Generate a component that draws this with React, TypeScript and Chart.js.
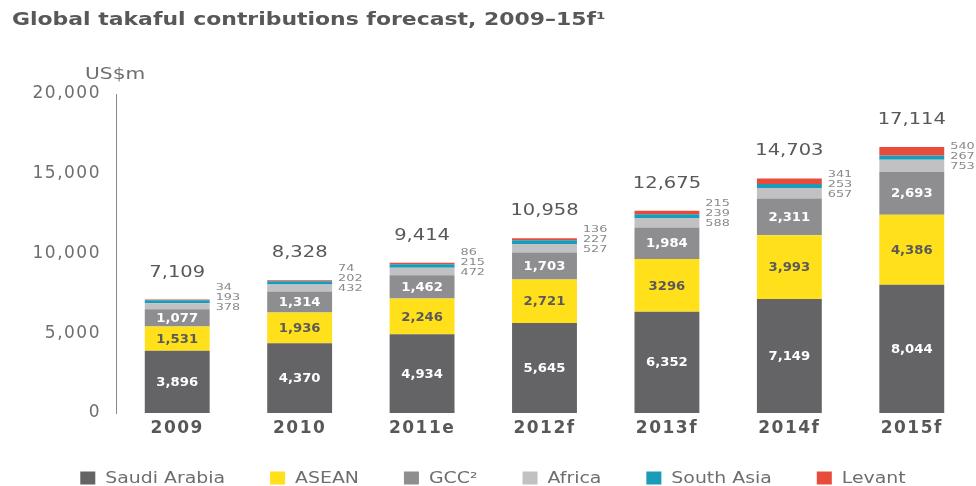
import { useEffect, useRef } from "react";
import { Chart, registerables } from "chart.js";

Chart.register(...registerables);

const categories = ["2009", "2010", "2011e", "2012f", "2013f", "2014f", "2015f"];
const seriesNames = ["Saudi Arabia", "ASEAN", "GCC²", "Africa", "South Asia", "Levant"];
const saudiArabia = [3896, 4370, 4934, 5645, 6352, 7149, 8044];
const asean = [1531, 1936, 2246, 2721, 3296, 3993, 4386];
const gcc = [1077, 1314, 1462, 1703, 1984, 2311, 2693];
const africa = [378, 432, 472, 527, 588, 657, 753];
const southAsia = [193, 202, 215, 227, 239, 253, 267];
const levant = [34, 74, 86, 136, 215, 341, 540];
const totals = [7109, 8328, 9414, 10958, 12675, 14703, 17114];
const saudiLabels = ["3,896", "4,370", "4,934", "5,645", "6,352", "7,149", "8,044"];
const aseanLabels = ["1,531", "1,936", "2,246", "2,721", "3296", "3,993", "4,386"];
const gccLabels = ["1,077", "1,314", "1,462", "1,703", "1,984", "2,311", "2,693"];
const yTicks = [0, 5000, 10000, 15000, 20000];

const colors = ["#646467", "#ffe01b", "#8e8e91", "#c1c1c3", "#1a9bb8", "#e84b3a"];
const FONT = "'DejaVu Sans', sans-serif";
const fmt = (v: number) => v.toLocaleString("en-US");

function wideText(
  ctx: CanvasRenderingContext2D,
  text: string,
  x: number,
  y: number,
  font: string,
  color: string,
  align: CanvasTextAlign,
  sx: number
) {
  ctx.save();
  ctx.font = font;
  ctx.fillStyle = color;
  ctx.textAlign = align;
  ctx.textBaseline = "middle";
  ctx.letterSpacing = "0px";
  ctx.translate(x, y);
  ctx.scale(sx, 1);
  ctx.fillText(text, 0, 0);
  ctx.restore();
}

const labelPlugin = {
  id: "customLabels",
  beforeDraw(chart: any) {
    chart.ctx.letterSpacing = "1.5px";
  },
  afterDatasetsDraw(chart: any) {
    const ctx = chart.ctx as CanvasRenderingContext2D;
    const inside = [saudiLabels, aseanLabels, gccLabels];
    const insideColors = ["#ffffff", "#5a5a5a", "#ffffff"];
    for (let j = 0; j < categories.length; j++) {
      for (let i = 0; i < 3; i++) {
        const el = chart.getDatasetMeta(i).data[j];
        const cy = (el.y + el.base) / 2;
        wideText(ctx, inside[i][j], el.x, cy + 1, `bold 12px ${FONT}`, insideColors[i], "center", 1.1);
      }
      const af = chart.getDatasetMeta(3).data[j];
      const topEl = chart.getDatasetMeta(5).data[j];
      const xr = af.x + af.width / 2 + 6;
      const ya = (af.y + af.base) / 2 + 1;
      const sf = `9.5px ${FONT}`;
      wideText(ctx, String(africa[j]), xr, ya, sf, "#8a8a8d", "left", 1.35);
      wideText(ctx, String(southAsia[j]), xr, ya - 10, sf, "#8a8a8d", "left", 1.35);
      wideText(ctx, String(levant[j]), xr, ya - 20, sf, "#8a8a8d", "left", 1.35);

      wideText(ctx, fmt(totals[j]), af.x, topEl.y - 27, `15px ${FONT}`, "#58585a", "center", 1.3);
    }
  },
  afterDraw(chart: any) {
    const ctx = chart.ctx as CanvasRenderingContext2D;
    ctx.letterSpacing = "0px";
    wideText(ctx, "Global takaful contributions forecast, 2009–15f¹", 12, 21, `bold 17px ${FONT}`, "#58585a", "left", 1.29);
    wideText(ctx, "US$m", 85, 75, `15px ${FONT}`, "#6d6e71", "left", 1.35);

    // legend
    const sx = 1.18;
    const lf = `16px ${FONT}`;
    ctx.save();
    ctx.font = lf;
    const boxW = 15;
    const boxH = 13;
    const gapBox = 10;
    const gap = 45;
    const widths = seriesNames.map((n) => boxW + gapBox + ctx.measureText(n).width * sx);
    ctx.restore();
    const total = widths.reduce((a, b) => a + b, 0) + gap * (widths.length - 1);
    let x = 493 - total / 2;
    const cy = 478;
    seriesNames.forEach((n, i) => {
      ctx.fillStyle = colors[i];
      ctx.fillRect(x, cy - boxH / 2, boxW, boxH);
      wideText(ctx, n, x + boxW + gapBox, cy + 1, lf, "#6d6e71", "left", sx);
      x += widths[i] + gap;
    });
  },
};

export default function App() {
  const ref = useRef<HTMLCanvasElement | null>(null);
  useEffect(() => {
    if (!ref.current) return;
    const seriesData = [saudiArabia, asean, gcc, africa, southAsia, levant];
    const chart = new Chart(ref.current, {
      type: "bar",
      data: {
        labels: categories,
        datasets: seriesNames.map((n, i) => ({
          label: n,
          data: seriesData[i],
          backgroundColor: colors[i],
          borderWidth: 0,
          barPercentage: 0.53,
          categoryPercentage: 1,
        })),
      },
      options: {
        animation: false,
        responsive: true,
        maintainAspectRatio: false,
        layout: { padding: { top: 94, left: 0, right: 3, bottom: 33 } },
        plugins: {
          legend: { display: false },
          tooltip: { enabled: false },
          title: { display: false },
        },
        scales: {
          x: {
            stacked: true,
            grid: { display: false, drawTicks: false },
            border: { display: false },
            ticks: {
              color: "#58585a",
              font: { family: FONT, size: 17, weight: "bold" },
              padding: 5,
            },
            afterFit: (s: any) => {
              s.height = 40;
            },
          },
          y: {
            stacked: true,
            min: 0,
            max: 20000,
            grid: { display: false, drawTicks: false },
            border: { display: true, color: "#8a8a8a", width: 1 },
            afterBuildTicks: (s: any) => {
              s.ticks = yTicks.map((v) => ({ value: v }));
            },
            ticks: {
              color: "#6d6e71",
              font: { family: FONT, size: 17 },
              padding: 15,
              callback: (v: any) => fmt(Number(v)),
            },
            afterFit: (s: any) => {
              s.width = 116;
            },
          },
        },
      },
      plugins: [labelPlugin],
    });
    return () => chart.destroy();
  }, []);
  return (
    <div style={{ position: "fixed", left: 0, top: 0, width: 976, height: 486, background: "#fff" }}>
      <canvas ref={ref} />
    </div>
  );
}
